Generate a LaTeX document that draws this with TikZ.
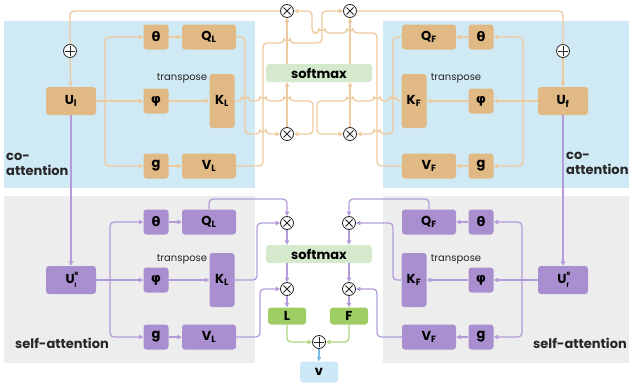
\documentclass[tikz,border=0pt]{standalone}
\usepackage{fontspec}
\setmainfont{Poppins}
\newfontfamily\grk{DejaVu Sans}
\usetikzlibrary{arrows.meta,positioning}
\definecolor{coFill}{RGB}{224,185,132}
\definecolor{coLine}{RGB}{236,202,158}
\definecolor{selfFill}{RGB}{169,143,208}
\definecolor{selfLine}{RGB}{180,156,220}
\definecolor{coBack}{RGB}{208,234,245}
\definecolor{selfBack}{RGB}{237,237,237}
\definecolor{smFill}{RGB}{213,234,205}
\definecolor{outFill}{RGB}{158,205,100}
\definecolor{outLine}{RGB}{172,214,128}
\definecolor{vFill}{RGB}{205,232,246}
\definecolor{vLine}{RGB}{122,186,230}
\tikzset{co box/.style={rectangle,rounded corners=3pt,fill=coFill,minimum width=25pt,minimum height=25pt,inner sep=0pt,font=\bfseries\fontsize{13}{13}\selectfont},
         self box/.style={co box,fill=selfFill},
         wide box/.style={minimum width=54pt},
         tall box/.style={minimum height=54pt},
         u box/.style={minimum width=50pt,minimum height=28pt},
         soft box/.style={co box,fill=smFill,minimum width=106pt,minimum height=18pt,font=\bfseries\fontsize{13}{13}\selectfont},
         out box/.style={co box,fill=outFill,minimum width=38pt,minimum height=17pt},
         op node/.style={circle,draw=black!85,fill=white,line width=0.8pt,minimum size=13pt,inner sep=0pt},
         times node/.style={op node,path picture={\draw[line width=0.8pt,black!85] (path picture bounding box.center) +(-3.5pt,-3.5pt) -- +(3.5pt,3.5pt) +(-3.5pt,3.5pt) -- +(3.5pt,-3.5pt);}},
         plus node/.style={op node,path picture={\draw[line width=0.8pt,black!85] (path picture bounding box.center) +(-5pt,0pt) -- +(5pt,0pt) +(0pt,-5pt) -- +(0pt,5pt);}},
         edge label/.style={rectangle,draw=none,fill=none,inner sep=0pt,text=black!85,font=\fontsize{10}{10}\selectfont},
         block label/.style={edge label,align=left,anchor=west,font=\bfseries\fontsize{13}{15}\selectfont},
         co wire/.style={draw=coLine,line width=1.3pt,rounded corners=4pt},
         self wire/.style={co wire,draw=selfLine}
}
% hop of a horizontal wire over a vertical one
\newcommand\hopR[2]{-- (#1-3,#2) arc[start angle=180,end angle=0,radius=3pt]}
\newcommand\hopL[2]{-- (#1+3,#2) arc[start angle=0,end angle=180,radius=3pt]}
\newcommand\ue[1]{U\rlap{\raisebox{1.05ex}{\fontsize{6}{6}\selectfont e}}\raisebox{-0.6ex}{\fontsize{6}{6}\selectfont #1}}

\begin{document}
\begin{tikzpicture}[x=1pt,y=-1pt,>={Triangle[length=4.5pt,width=4.5pt]}]
\useasboundingbox (0,0) rectangle (629,388);
\fill[coBack] (4,21) rectangle (255,188);
\fill[coBack] (383,21) rectangle (629,188);
\fill[selfBack] (4,196) rectangle (255,363);
\fill[selfBack] (383,196) rectangle (629,363);

% co-attention, L side
\node[co box,u box] (Ul) at (71,101) {U\textsubscript{l}};
\node[plus node] (pl) at (70,51) {};
\node[co box] (thl) at (156,37) {\grk θ};
\node[co box] (phl) at (156,101) {\grk φ};
\node[co box] (gl) at (156,166) {g};
\node[co box,wide box] (Ql) at (209,37) {Q\textsubscript{L}};
\node[co box,tall box] (Kl) at (222,101) {K\textsubscript{L}};
\node[co box,wide box] (Vl) at (209,166) {V\textsubscript{L}};
\node[edge label] at (182,78) {transpose};
\node[block label] at (6,164) {co-\\attention};

% co-attention, F side
\node[co box,u box] (Uf) at (563,101) {U\textsubscript{f}};
\node[plus node] (pf) at (563,51) {};
\node[co box] (thf) at (481,37) {\grk θ};
\node[co box] (phf) at (481,101) {\grk φ};
\node[co box] (gf) at (481,166) {g};
\node[co box,wide box] (Qf) at (429,37) {Q\textsubscript{F}};
\node[co box,tall box] (Kf) at (414,101) {K\textsubscript{F}};
\node[co box,wide box] (Vf) at (429,166) {V\textsubscript{F}};
\node[edge label] at (456,78) {transpose};
\node[block label] at (566,163) {co-\\attention};

% co-attention, middle
\node[soft box] (sm1) at (319,73) {softmax};
\node[times node] (x1) at (287,11) {};
\node[times node] (x2) at (350,11) {};
\node[times node] (x3) at (287,134) {};
\node[times node] (x4) at (350,134) {};

% self-attention, L side
\node[self box,u box] (Ule) at (71,280) {\ue{l}};
\node[self box] (thl2) at (156,222) {\grk θ};
\node[self box] (phl2) at (156,280) {\grk φ};
\node[self box] (gl2) at (156,337) {g};
\node[self box,wide box] (Ql2) at (209,222) {Q\textsubscript{L}};
\node[self box,tall box] (Kl2) at (222,280) {K\textsubscript{L}};
\node[self box,wide box] (Vl2) at (209,337) {V\textsubscript{L}};
\node[edge label] at (182,259) {transpose};
\node[block label] at (15,343) {self-attention};

% self-attention, F side
\node[self box,u box] (Ufe) at (563,280) {\ue{f}};
\node[self box] (thf2) at (481,222) {\grk θ};
\node[self box] (phf2) at (481,280) {\grk φ};
\node[self box] (gf2) at (481,337) {g};
\node[self box,wide box] (Qf2) at (429,222) {Q\textsubscript{F}};
\node[self box,tall box] (Kf2) at (414,280) {K\textsubscript{F}};
\node[self box,wide box] (Vf2) at (429,337) {V\textsubscript{F}};
\node[edge label] at (456,259) {transpose};
\node[block label] at (533,343) {self-attention};

% self-attention, middle
\node[soft box] (sm2) at (319,254) {softmax};
\node[times node] (x5) at (287,223) {};
\node[times node] (x6) at (349,223) {};
\node[times node] (x7) at (287,289) {};
\node[times node] (x8) at (349,289) {};
\node[out box] (L) at (287,316) {L};
\node[out box] (F) at (349,316) {F};
\node[plus node] (pv) at (319,342) {};
\node[co box,fill=vFill,minimum width=38pt,minimum height=21pt] (v) at (319,372) {v};

% co wires
\draw[co wire,->] (Ul) -- (phl);
\draw[co wire,->] (105,101) |- (thl);
\draw[co wire,->] (105,101) |- (gl);
\draw[co wire,->] (thl) -- (Ql);
\draw[co wire,->] (phl) -- (Kl);
\draw[co wire,->] (gl) -- (Vl);
\draw[co wire,->] (Uf) -- (phf);
\draw[co wire,->] (523,101) |- (thf);
\draw[co wire,->] (523,101) |- (gf);
\draw[co wire,->] (thf) -- (Qf);
\draw[co wire,->] (phf) -- (Kf);
\draw[co wire,->] (gf) -- (Vf);

\draw[co wire,->] (Ql.east) -- (245,37) -- (245,134) \hopR{263}{134} -- (x3.west);
\draw[co wire,->] (Kl.east) \hopR{245}{101} \hopR{263}{101} \hopR{287}{101} -- (313,101) -- (313,134) -- (x3.east);
\draw[co wire,->] (Qf.west) -- (393,37) -- (393,134) \hopL{377}{134} -- (x4.east);
\draw[co wire,->] (Kf.west) \hopL{393}{101} \hopL{377}{101} \hopL{350}{101} -- (317,101) -- (317,134) -- (x4.west);
\draw[co wire,->] (Vl.east) -- (263,166) -- (263,43) \hopR{287}{43} -- (322,43) -- (322,11) -- (x2.west);
\draw[co wire,->] (Vf.west) -- (377,166) -- (377,33) \hopL{350}{33} \hopL{322}{33} -- (312,33) -- (312,11) -- (x1.east);
\draw[co wire,->] (x3) -- (sm1.south -| x3);
\draw[co wire,->] (x4) -- (sm1.south -| x4);
\draw[co wire,->] (sm1.north -| x1) -- (x1);
\draw[co wire,->] (sm1.north -| x2) -- (x2);
\draw[co wire] (x1.west) -- (70,11) -- (pl.north);
\draw[co wire] (x2.east) -- (563,11) -- (pf.north);
\draw[co wire,->] (pl) -- (Ul);
\draw[co wire,->] (pf) -- (Uf);

% self wires
\draw[self wire,->] (Ul) -- (Ule);
\draw[self wire,->] (Uf) -- (Ufe);
\draw[self wire,->] (Ule) -- (phl2);
\draw[self wire,->] (110,280) |- (thl2);
\draw[self wire,->] (110,280) |- (gl2);
\draw[self wire,->] (thl2) -- (Ql2);
\draw[self wire,->] (phl2) -- (Kl2);
\draw[self wire,->] (gl2) -- (Vl2);
\draw[self wire,->] (Ufe) -- (phf2);
\draw[self wire,->] (522,280) |- (thf2);
\draw[self wire,->] (522,280) |- (gf2);
\draw[self wire,->] (thf2) -- (Qf2);
\draw[self wire,->] (phf2) -- (Kf2);
\draw[self wire,->] (gf2) -- (Vf2);

\draw[self wire,->] (Ql2.north) -- (209,199) -- (287,199) -- (x5.north);
\draw[self wire,->] (Kl2.east) -- (257,280) -- (257,223) -- (x5.west);
\draw[self wire,->] (Vl2.east) -- (260,337) -- (260,289) -- (x7.west);
\draw[self wire,->] (Qf2.north) -- (429,199) -- (349,199) -- (x6.north);
\draw[self wire,->] (Kf2.west) -- (393,280) -- (393,223) -- (x6.east);
\draw[self wire,->] (Vf2.west) -- (377,337) -- (377,289) -- (x8.east);
\draw[self wire,->] (x5) -- (sm2.north -| x5);
\draw[self wire,->] (x6) -- (sm2.north -| x6);
\draw[self wire,->] (sm2.south -| x7) -- (x7);
\draw[self wire,->] (sm2.south -| x8) -- (x8);
\draw[self wire,->] (x7) -- (L);
\draw[self wire,->] (x8) -- (F);

% output
\draw[co wire,draw=outLine,->] (L.south) -- (287,342) -- (pv.west);
\draw[co wire,draw=outLine,->] (F.south) -- (349,342) -- (pv.east);
\draw[co wire,draw=vLine,->] (pv) -- (v);
\end{tikzpicture}
\end{document}
